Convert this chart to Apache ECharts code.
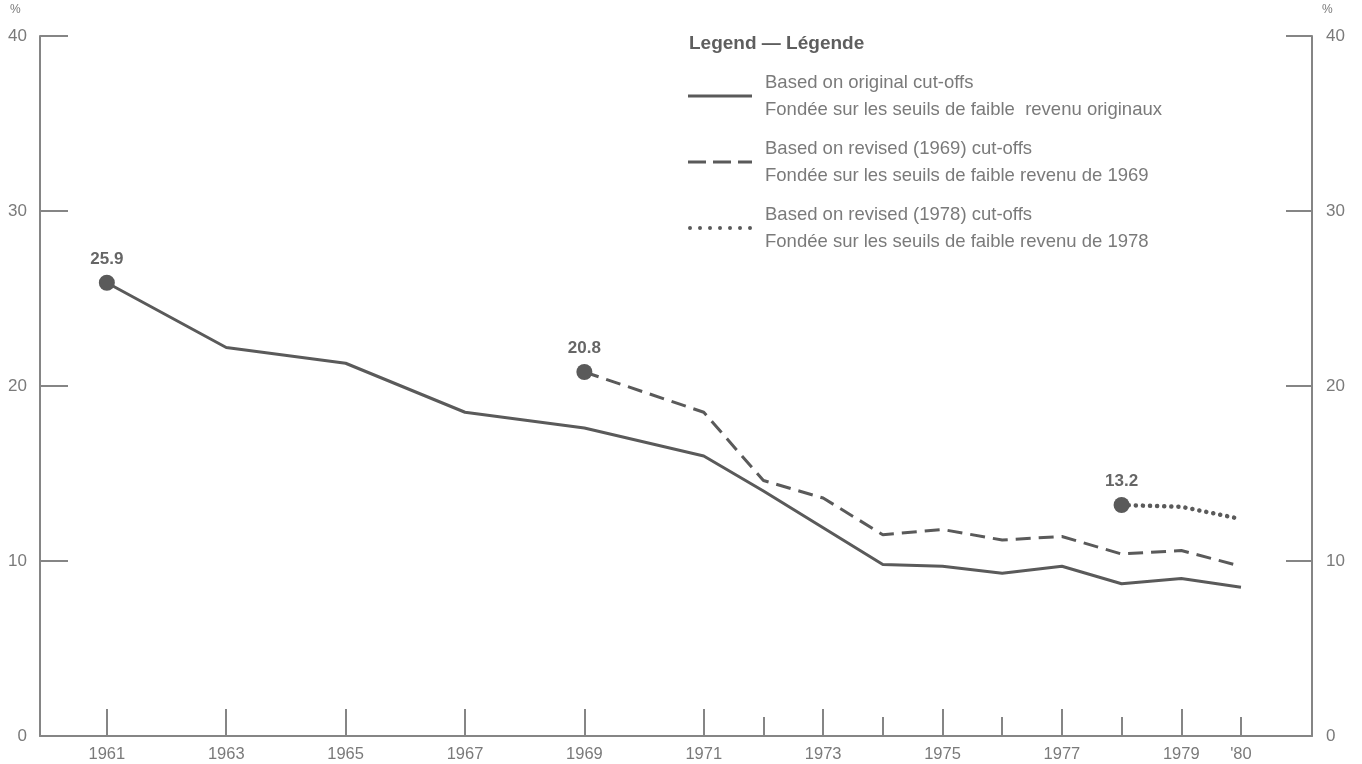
<!DOCTYPE html>
<html>
<head>
<meta charset="utf-8">
<script src="https://cdn.jsdelivr.net/npm/echarts@6/dist/echarts.min.js"></script>
<style>html,body{margin:0;padding:0;background:#fff;}#c{width:1362px;height:764px;}</style>
</head>
<body>
<div id="c"></div>
<script>
var years = [1961, 1963, 1965, 1967, 1969, 1971, 1972, 1973, 1974, 1975, 1976, 1977, 1978, 1979, 1980];
var original = [25.9, 22.2, 21.3, 18.5, 17.6, 16.0, 14.0, 11.9, 9.8, 9.7, 9.3, 9.7, 8.7, 9.0, 8.5];
var revised1969 = [null, null, null, null, 20.8, 18.5, 14.6, 13.6, 11.5, 11.8, 11.2, 11.4, 10.4, 10.6, 9.7];
var revised1978 = [null, null, null, null, null, null, null, null, null, null, null, null, 13.2, 13.1, 12.4];
var majorTicks = [1961, 1963, 1965, 1967, 1969, 1971, 1973, 1975, 1977, 1979];
var minorTicks = [1972, 1974, 1976, 1978, 1980];
var labelYears = [1961, 1963, 1965, 1967, 1969, 1971, 1973, 1975, 1977, 1979, 1980];
var seriesNames = [
  'Based on original cut-offs\nFondée sur les seuils de faible  revenu originaux',
  'Based on revised (1969) cut-offs\nFondée sur les seuils de faible revenu de 1969',
  'Based on revised (1978) cut-offs\nFondée sur les seuils de faible revenu de 1978'
];

var FONT = 'Liberation Sans, Arial, sans-serif';
var LINE = '#5a5a5a';
var AXIS = '#858585';
var TEXT = '#7a7a7a';

var dotPath = 'path://';
for (var d = 0; d < 7; d++) {
  var cx = d * 10;
  dotPath += 'M' + cx + ',2a2,2 0 1,0 4,0a2,2 0 1,0 -4,0z ';
}
var legendIcons = [
  'path://M0,0H64V3H0Z',
  'path://M0,0H18V3H0Z M25,0H43V3H25Z M50,0H64V3H50Z',
  dotPath
];

function build(vals) {
  var out = [];
  var first = true;
  for (var i = 0; i < years.length; i++) {
    if (vals[i] == null) continue;
    if (first) {
      out.push({
        value: [years[i], vals[i]],
        symbol: 'circle', symbolSize: 16,
        itemStyle: { color: LINE },
        label: { show: true, position: 'top', distance: 7, formatter: function (p) { return p.value[1].toFixed(1); },
          color: '#666', fontWeight: 'bold', fontSize: 17, fontFamily: FONT }
      });
      first = false;
    } else {
      out.push([years[i], vals[i]]);
    }
  }
  return out;
}

var chart = echarts.init(document.getElementById('c'));
chart.setOption({
  animation: false,
  backgroundColor: '#fff',
  title: {
    text: 'Legend — Légende', left: 684, top: 29,
    textStyle: { color: '#5e5e5e', fontSize: 19, fontWeight: 'bold', fontFamily: FONT }
  },
  legend: {
    orient: 'vertical', left: 683, top: 64,
    itemWidth: 64, itemHeight: 4, itemGap: 12,
    textStyle: { color: TEXT, fontSize: 18.5, fontFamily: FONT, lineHeight: 27, padding: [0, 0, 0, 8] },
    data: seriesNames.map(function (n, i) { return { name: n, icon: legendIcons[i], itemStyle: { color: LINE } }; })
  },
  graphic: [
    { type: 'text', left: 10, top: 4, style: { text: '%', fill: TEXT, font: '12px ' + FONT } },
    { type: 'text', left: 1322, top: 4, style: { text: '%', fill: TEXT, font: '12px ' + FONT } }
  ],
  grid: { left: 40, right: 50, top: 36, bottom: 28, containLabel: false },
  xAxis: [{
    type: 'value', min: 1959.88, max: 1981.19, position: 'bottom',
    axisLine: { show: true, onZero: false, lineStyle: { color: AXIS, width: 2 } },
    axisTick: { show: true, inside: true, length: 27, customValues: majorTicks, lineStyle: { color: AXIS, width: 2 } },
    axisLabel: { show: true, customValues: labelYears, margin: 10, color: TEXT, fontSize: 16.5, fontFamily: FONT,
      formatter: function (v) { return v === 1980 ? "'80" : String(v); } },
    splitLine: { show: false }
  }, {
    type: 'value', min: 1959.88, max: 1981.19, position: 'bottom',
    axisLine: { show: false, onZero: false },
    axisTick: { show: true, inside: true, length: 19, customValues: minorTicks, lineStyle: { color: AXIS, width: 2 } },
    axisLabel: { show: false },
    splitLine: { show: false }
  }],
  yAxis: [{
    type: 'value', min: 0, max: 40, interval: 10, position: 'left',
    axisLine: { show: true, onZero: false, lineStyle: { color: AXIS, width: 2 } },
    axisTick: { show: true, inside: true, length: 28, lineStyle: { color: AXIS, width: 2 } },
    axisLabel: { margin: 13, color: TEXT, fontSize: 17, fontFamily: FONT },
    splitLine: { show: false }
  }, {
    type: 'value', min: 0, max: 40, interval: 10, position: 'right',
    axisLine: { show: true, onZero: false, lineStyle: { color: AXIS, width: 2 } },
    axisTick: { show: true, inside: true, length: 26, lineStyle: { color: AXIS, width: 2 } },
    axisLabel: { margin: 14, color: TEXT, fontSize: 17, fontFamily: FONT },
    splitLine: { show: false }
  }],
  series: [{
    name: seriesNames[0], type: 'line', xAxisIndex: 0, yAxisIndex: 0,
    data: build(original), symbol: 'none', showSymbol: true,
    lineStyle: { color: LINE, width: 3 }, itemStyle: { color: LINE }
  }, {
    name: seriesNames[1], type: 'line', xAxisIndex: 0, yAxisIndex: 0,
    data: build(revised1969), symbol: 'none', showSymbol: true,
    lineStyle: { color: LINE, width: 3, type: [15, 8] }, itemStyle: { color: LINE }
  }, {
    name: seriesNames[2], type: 'line', xAxisIndex: 0, yAxisIndex: 0,
    data: build(revised1978), symbol: 'none', showSymbol: true,
    lineStyle: { color: LINE, width: 4.5, type: [0.1, 7], cap: 'round' }, itemStyle: { color: LINE }
  }]
});
</script>
</body>
</html>
